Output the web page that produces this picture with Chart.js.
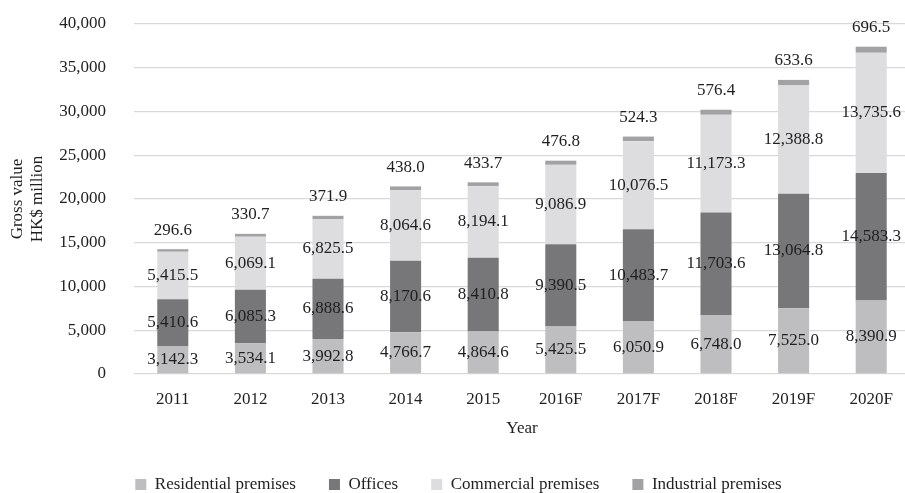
<!DOCTYPE html>
<html>
<head>
<meta charset="utf-8">
<script src="https://cdn.jsdelivr.net/npm/chart.js@4/dist/chart.umd.min.js"></script>
<style>
  html, body { margin: 0; padding: 0; background: #fff; overflow: hidden; }
  #wrap { width: 910px; height: 493px; }
</style>
</head>
<body>
<div id="wrap"><canvas id="chart"></canvas></div>
<script>
// Values (HK$ million)
const years       = ['2011', '2012', '2013', '2014', '2015', '2016F', '2017F', '2018F', '2019F', '2020F'];
const residential = [3142.3, 3534.1, 3992.8, 4766.7, 4864.6, 5425.5, 6050.9, 6748.0, 7525.0, 8390.9];
const offices     = [5410.6, 6085.3, 6888.6, 8170.6, 8410.8, 9390.5, 10483.7, 11703.6, 13064.8, 14583.3];
const commercial  = [5415.5, 6069.1, 6825.5, 8064.6, 8194.1, 9086.9, 10076.5, 11173.3, 12388.8, 13735.6];
const industrial  = [296.6, 330.7, 371.9, 438.0, 433.7, 476.8, 524.3, 576.4, 633.6, 696.5];

const FONT = '"Liberation Serif", "Times New Roman", serif';
const SIZE = 17;
const TEXT = '#1f1f1f';

const fmt = v => v.toLocaleString('en-US', { minimumFractionDigits: 1, maximumFractionDigits: 1 });

// value labels: centred in each segment, industrial one sits above the stack
const valueLabels = {
  id: 'valueLabels',
  afterDatasetsDraw(chart) {
    const ctx = chart.ctx;
    ctx.save();
    ctx.font = SIZE + 'px ' + FONT;
    ctx.fillStyle = TEXT;
    ctx.textAlign = 'center';
    ctx.textBaseline = 'middle';
    chart.data.datasets.forEach((ds, i) => {
      const meta = chart.getDatasetMeta(i);
      meta.data.forEach((bar, j) => {
        const y = i === 3 ? bar.y - 19 : (bar.y + bar.base) / 2;
        ctx.fillText(fmt(ds.data[j]), bar.x, y);
      });
    });
    ctx.restore();
  }
};

new Chart(document.getElementById('chart').getContext('2d'), {
  type: 'bar',
  data: {
    labels: years,
    datasets: [
      { label: 'Residential premises', data: residential, backgroundColor: '#bebec1' },
      { label: 'Offices',              data: offices,     backgroundColor: '#77777a' },
      { label: 'Commercial premises',  data: commercial,  backgroundColor: '#dddddf' },
      { label: 'Industrial premises',  data: industrial,  backgroundColor: '#a2a2a5' }
    ]
  },
  options: {
    responsive: true,
    maintainAspectRatio: false,
    animation: false,
    datasets: { bar: { categoryPercentage: 1, barPercentage: 0.4 } },
    layout: { padding: { top: 24, left: 7, right: 0, bottom: -10 } },
    plugins: {
      legend: {
        position: 'bottom',
        labels: {
          font: { family: FONT, size: SIZE },
          color: TEXT,
          boxWidth: 11,
          boxHeight: 11,
          padding: 33
        }
      },
      tooltip: { enabled: false }
    },
    scales: {
      x: {
        stacked: true,
        grid: { display: false, drawTicks: false },
        border: { display: false },
        ticks: { font: { family: FONT, size: SIZE }, color: TEXT, padding: 15 },
        title: { display: true, text: 'Year', font: { family: FONT, size: SIZE }, color: TEXT, padding: { top: 9, bottom: 4 } },
        afterFit: s => { s.height = 69; s.paddingLeft = 0; s.paddingRight = 0; }
      },
      y: {
        stacked: true,
        min: 0,
        max: 40000,
        grid: { color: '#d9d9d9', lineWidth: 1.3, drawTicks: false },
        border: { display: false },
        ticks: {
          stepSize: 5000,
          font: { family: FONT, size: SIZE },
          color: TEXT,
          padding: 28,
          callback: v => v.toLocaleString('en-US')
        },
        title: {
          display: true,
          text: ['Gross value', 'HK$ million'],
          font: { family: FONT, size: SIZE, lineHeight: 1.2 },
          color: TEXT,
          padding: { top: 0, bottom: 10 }
        },
        afterFit: s => { s.width = 127; s.paddingTop = 0; s.paddingBottom = 0; }
      }
    }
  },
  plugins: [valueLabels]
});
</script>
</body>
</html>
